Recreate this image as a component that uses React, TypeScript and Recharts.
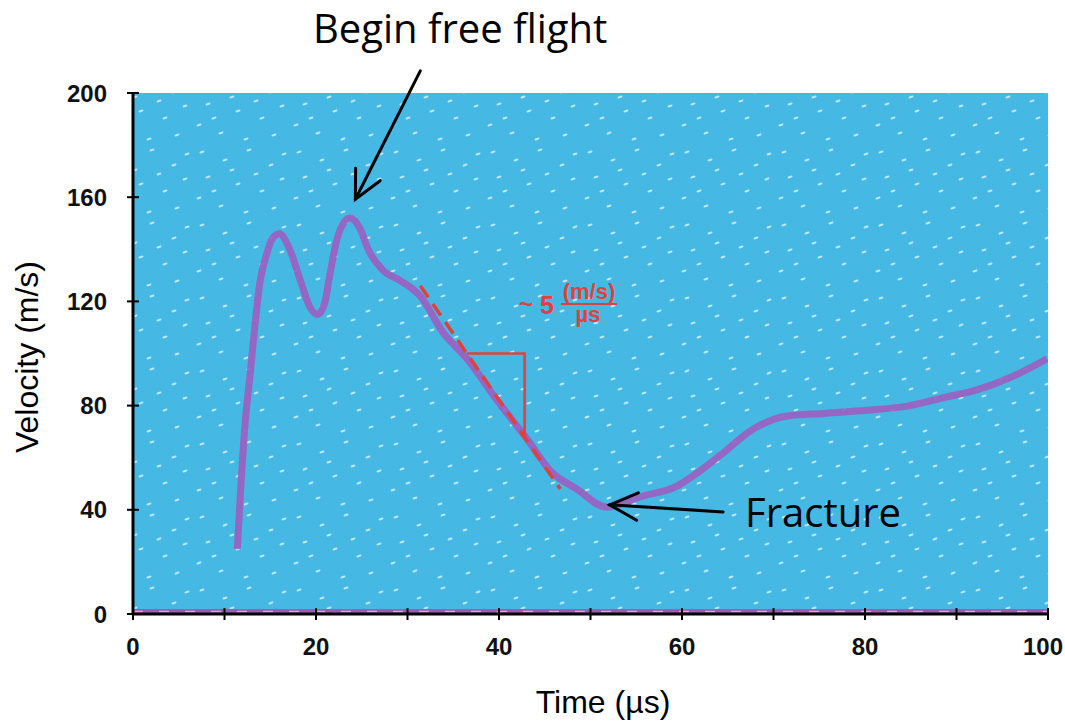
import { LineChart, Line, XAxis, YAxis, ReferenceArea, ReferenceLine } from 'recharts'

// measured trace (time in µs, velocity in m/s)
const timeUs = [
  11.4, 11.8, 12.3, 12.8, 13.9, 14.6, 15.2, 16.0, 17.0, 18.3, 19.3, 20.2, 21.0, 21.4, 22.3, 23.0, 23.7,
  24.8, 25.7, 27.3, 29.2, 31.4, 33.9, 36.5, 39.8, 43.1, 45.6, 48.5, 51.8, 55.4, 59.4, 62.0, 64.2,
  67.8, 71.5, 75.5, 79.5, 84.9, 88.5, 92.2, 96.0, 99.9,
]
const velocity = [
  25, 50, 75, 92, 128, 138, 144, 146, 141, 128, 118, 115, 120, 128, 144, 150, 152,
  148, 140, 132, 128, 122, 108, 98, 82, 67, 55, 48, 41, 45, 49, 55, 61,
  71, 76, 77, 78, 80, 83, 86, 91, 98,
]

const baseT = [0, 100]
const baseV = [1, 1]

const slopeT = [31.4, 46.7]
const slopeV = [126, 48]

const triT = [36.5, 42.8, 42.8]
const triV = [100, 100, 68]

const xTicks = [0, 10, 20, 30, 40, 50, 60, 70, 80, 90, 100]
const yTicks = [0, 40, 80, 120, 160, 200]

const zip = (ts: number[], vs: number[]) => ts.map((t, i) => ({ t, v: vs[i] }))

const curve = zip(timeUs, velocity)
const baseline = zip(baseT, baseV)
const slope = zip(slopeT, slopeV)
const triangle = zip(triT, triV)

const RED = '#E2413B'
const PURPLE = '#9A5FC0'
const TICK_FONT = '"Liberation Sans", Arial, sans-serif'

// speckle texture of the plot background (pattern tile, not data)
const specks = [
  [8, 6], [31, 14], [55, 4], [77, 19], [14, 31], [44, 38], [68, 45], [88, 33],
  [5, 52], [27, 60], [52, 66], [80, 62], [38, 24], [62, 28], [20, 45], [90, 8],
]

function XTick(props: any) {
  const { x, y, payload } = props
  const v = payload.value
  return (
    <g>
      <line x1={x} x2={x} y1={y - 6} y2={y + 6} stroke="#000" strokeWidth={2} />
      {v % 20 === 0 && (
        <text x={v === 100 ? x - 5 : x} y={y + 41} textAnchor="middle" fontFamily={TICK_FONT} fontWeight="bold" fontSize={24} fill="#111">
          {v}
        </text>
      )}
    </g>
  )
}

function YTick(props: any) {
  const { x, y, payload } = props
  return (
    <g>
      <line x1={x - 6} x2={x + 6} y1={y} y2={y} stroke="#000" strokeWidth={2} />
      <text x={x - 26} y={y + 8.5} textAnchor="end" fontFamily={TICK_FONT} fontWeight="bold" fontSize={24} fill="#111">
        {payload.value}
      </text>
    </g>
  )
}

function Arrow(props: any) {
  const { x1, y1, x2, y2 } = props
  const ang = Math.atan2(y1 - y2, x1 - x2)
  const len = 31
  const spread = 0.46
  const w1 = { x: x2 + len * Math.cos(ang + spread), y: y2 + len * Math.sin(ang + spread) }
  const w2 = { x: x2 + len * Math.cos(ang - spread), y: y2 + len * Math.sin(ang - spread) }
  return (
    <g stroke="#000" strokeWidth={3} fill="none" strokeLinecap="round">
      <line x1={x1} y1={y1} x2={x2} y2={y2} />
      <polyline points={`${w1.x},${w1.y} ${x2},${y2} ${w2.x},${w2.y}`} />
    </g>
  )
}

export default function App() {
  return (
    <div style={{ position: 'absolute', left: 0, top: 0, width: 1065, height: 721, background: '#fff' }}>
      <svg width={0} height={0} style={{ position: 'absolute' }}>
        <defs>
          <pattern id="speckle" width={97} height={73} patternUnits="userSpaceOnUse">
            <rect width={97} height={73} fill="#45B9E4" />
            {specks.map(([sx, sy], i) => (
              <ellipse key={i} cx={sx} cy={sy} rx={2.6} ry={1.1} fill="#E8F6FB" fillOpacity={0.75} transform={`rotate(-18 ${sx} ${sy})`} />
            ))}
          </pattern>
        </defs>
      </svg>
      <LineChart width={1065} height={721} margin={{ top: 93, right: 17, bottom: 47, left: 53 }}>
        <XAxis
          type="number"
          dataKey="t"
          domain={[0, 100]}
          ticks={xTicks}
          allowDataOverflow
          height={60}
          tickSize={0}
          tickMargin={0}
          tick={XTick}
          axisLine={{ stroke: '#000', strokeWidth: 3 }}
        />
        <YAxis
          type="number"
          dataKey="v"
          domain={[0, 200]}
          ticks={yTicks}
          allowDataOverflow
          width={80}
          tickSize={0}
          tickMargin={0}
          tick={YTick}
          axisLine={{ stroke: '#000', strokeWidth: 3 }}
        />
        <ReferenceArea x1={0} x2={100} y1={0} y2={200} fill="url(#speckle)" fillOpacity={1} stroke="none" />
        <Line data={baseline} dataKey="v" stroke="#A05AB4" strokeWidth={5} dot={false} isAnimationActive={false} />
        <Line data={baseline} dataKey="v" stroke="#D8A6DE" strokeWidth={1.5} strokeDasharray="10 16" dot={false} isAnimationActive={false} />
        <Line data={curve} dataKey="v" type="monotone" stroke={PURPLE} strokeOpacity={0.92} strokeWidth={7} dot={false} isAnimationActive={false} />
        <Line data={slope} dataKey="v" stroke={RED} strokeWidth={3.5} strokeDasharray="14 8" dot={false} isAnimationActive={false} />
        <Line data={triangle} dataKey="v" stroke={RED} strokeWidth={2.5} dot={false} isAnimationActive={false} />
        <ReferenceLine segment={[{ x: 31.4, y: 208.5 }, { x: 24.3, y: 159.2 }]} ifOverflow="visible" shape={Arrow} />
        <ReferenceLine segment={[{ x: 64.5, y: 39.2 }, { x: 52.1, y: 41.9 }]} ifOverflow="visible" shape={Arrow} />
      </LineChart>
      <svg width={1065} height={721} style={{ position: 'absolute', left: 0, top: 0, pointerEvents: 'none' }}>
        <text x={313} y={43} fontFamily='"Open Sans", sans-serif' fontSize={40} fill="#000">Begin free flight</text>
        <text x={745} y={527} fontFamily='"Open Sans", sans-serif' fontSize={40} fill="#000">Fracture</text>
        <g fill={RED} fontFamily={TICK_FONT} fontWeight="bold">
          <text x={519} y={312} fontSize={24}>~</text>
          <text x={540} y={314} fontSize={25}>5</text>
          <text x={589} y={299} fontSize={22} textAnchor="middle">(m/s)</text>
          <line x1={561} x2={617} y1={304} y2={304} stroke={RED} strokeWidth={2} />
          <text x={588} y={322} fontSize={22} textAnchor="middle">µs</text>
        </g>
        <text x={603} y={713} textAnchor="middle" fontFamily={TICK_FONT} fontSize={32} fill="#000">Time (µs)</text>
        <text transform="translate(38,357) rotate(-90)" textAnchor="middle" fontFamily={TICK_FONT} fontSize={32} fill="#000">
          Velocity (m/s)
        </text>
      </svg>
    </div>
  )
}
